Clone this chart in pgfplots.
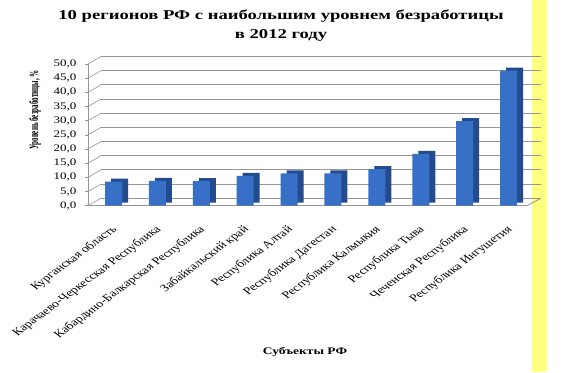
\documentclass[border=0pt]{standalone}
\usepackage{fontspec}
\setmainfont{Liberation Serif}
\usepackage{pgfplots}
\pgfplotsset{compat=1.18}
\definecolor{barfront}{RGB}{56,112,200}
\definecolor{barside}{RGB}{34,76,142}
\definecolor{gridc}{RGB}{150,150,150}
\definecolor{yel}{RGB}{255,255,128}
\begin{document}
\begin{tikzpicture}[x=1pt,y=1pt]
\path[use as bounding box] (0,0) rectangle (567,372);
\fill[white] (0,0) rectangle (567,372);
\fill[yel] (532,0) rectangle (547,372);
% title
\node[font=\bfseries\fontsize{13.5}{19}\selectfont, xscale=1.38, align=center] at (281,346) {10 регионов РФ с наибольшим уровнем безработицы\\в 2012 году};
\node[font=\bfseries\fontsize{7}{10}\selectfont, xscale=1.8, rotate=90] at (35,262) {Уровень безработицы, \%};
\node[font=\bfseries\fontsize{10}{10}\selectfont, xscale=1.35] at (305,20) {Субъекты РФ};
% back wall grid
\begin{axis}[
  at={(101pt,173.8pt)}, anchor=south west,
  scale only axis, width=440pt, height=141.7pt,
  xmin=0, xmax=1, ymin=0, ymax=50,
  ytick distance=5, xtick=\empty, yticklabels=\empty,
  major tick length=0pt,
  ymajorgrids, grid style={gridc, line width=0.8pt},
  axis line style={draw=none},
]
\addplot[draw=none] coordinates {(0,0)};
\end{axis}
% front
\begin{axis}[
  at={(88pt,166.3pt)}, anchor=south west,
  scale only axis, width=439pt, height=141.7pt,
  xmin=-0.581, xmax=9.42, ymin=0, ymax=50,
  clip=false,
  axis x line*=bottom, axis y line*=left,
  axis line style={gridc, line width=0.8pt, -},
  ytick distance=5,
  xtick={0,...,9},
  xticklabels={Курганская область, Карачаево-Черкесская Республика, Кабардино-Балкарская Республика, Забайкальский край, Республика Алтай, Республика Дагестан, Республика Калмыкия, Республика Тыва, Чеченская Республика, Республика Ингушетия},
  x tick style={draw=none},
  y tick style={gridc, line width=0.6pt},
  major tick length=3pt,
  tick align=outside,
  xticklabel shift=15pt,
  yticklabel shift=4pt,
  /pgf/number format/assume math mode=true,
  yticklabel style={font=\fontsize{10}{10}\selectfont, xscale=1.3, /pgf/number format/.cd, fixed, fixed zerofill, precision=1, use comma},
  xticklabel style={font=\fontsize{10.3}{10}\selectfont, xshift=-3pt, cm={0.9546,0.7071,-0.9546,0.7071,(0,0)}, anchor=north east, inner sep=0.5pt},
]
\pgfplotsinvokeforeach{0,5,...,50}{\draw[gridc, line width=0.6pt] (axis cs:-0.581,#1) -- ++(13pt,7.5pt);}
\draw[gridc, line width=0.8pt] (axis cs:9.42,0) -- ++(14pt,7.5pt);
\addplot[ybar, bar width=17pt, bar shift=0pt, fill=barside, draw=none, xshift=6pt, yshift=3pt] coordinates {
(0,8.5) (1,8.8) (2,8.7) (3,10.5) (4,11.4) (5,11.4) (6,12.9) (7,18.3) (8,29.8) (9,47.7)};
\addplot[ybar, bar width=17pt, bar shift=0pt, fill=barfront, draw=none] coordinates {
(0,8.5) (1,8.8) (2,8.7) (3,10.5) (4,11.4) (5,11.4) (6,12.9) (7,18.3) (8,29.8) (9,47.7)};
\end{axis}
\end{tikzpicture}
\end{document}
